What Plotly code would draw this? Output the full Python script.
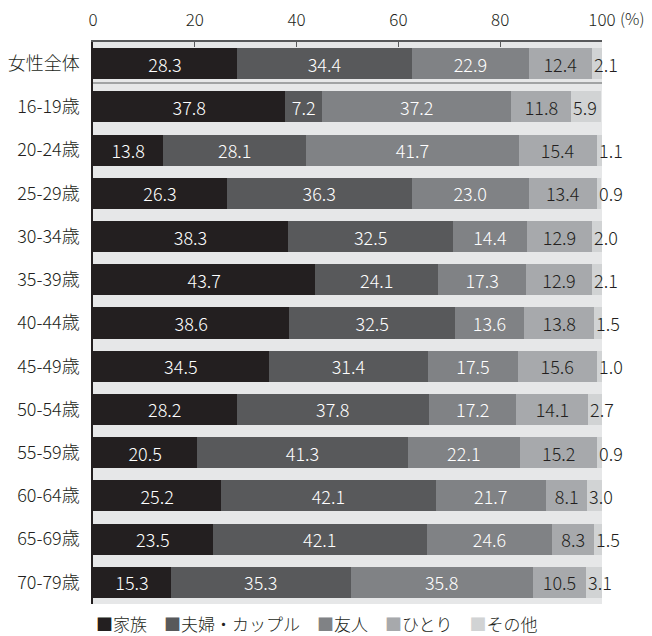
import plotly.graph_objects as go

# Who respondents spend time with, by age group (%)
categories = ["女性全体", "16-19歳", "20-24歳", "25-29歳", "30-34歳", "35-39歳", "40-44歳",
              "45-49歳", "50-54歳", "55-59歳", "60-64歳", "65-69歳", "70-79歳"]
series_names = ["家族", "夫婦・カップル", "友人", "ひとり", "その他"]
family = [28.3, 37.8, 13.8, 26.3, 38.3, 43.7, 38.6, 34.5, 28.2, 20.5, 25.2, 23.5, 15.3]
couple = [34.4, 7.2, 28.1, 36.3, 32.5, 24.1, 32.5, 31.4, 37.8, 41.3, 42.1, 42.1, 35.3]
friends = [22.9, 37.2, 41.7, 23.0, 14.4, 17.3, 13.6, 17.5, 17.2, 22.1, 21.7, 24.6, 35.8]
alone = [12.4, 11.8, 15.4, 13.4, 12.9, 12.9, 13.8, 15.6, 14.1, 15.2, 8.1, 8.3, 10.5]
other = [2.1, 5.9, 1.1, 0.9, 2.0, 2.1, 1.5, 1.0, 2.7, 0.9, 3.0, 1.5, 3.1]
tick_vals = [0, 20, 40, 60, 80, 100]

colors = ["#231f20", "#58595b", "#808285", "#a7a9ac", "#d1d3d4"]
text_colors = ["#ffffff", "#ffffff", "#ffffff", "#231f20", "#231f20"]
FONT = "Noto Sans CJK JP"
W = 300  # light weight

fig = go.Figure()
all_series = [family, couple, friends, alone, other]
for i, (name, vals) in enumerate(zip(series_names, all_series)):
    show_text = i < 4
    fig.add_trace(go.Bar(
        y=categories, x=vals, name=name, orientation="h",
        marker=dict(color=colors[i], line=dict(width=0)),
        width=0.72,
        text=[f"{v:.1f}" for v in vals] if show_text else None,
        textposition="inside" if show_text else "none",
        insidetextanchor="middle",
        textangle=0,
        textfont=dict(family=FONT, size=18, color=text_colors[i], weight=W),
        hoverinfo="x+y+name",
        showlegend=False,
    ))

# "その他" values sit just right of where that segment starts
annotations = []
for k, cat in enumerate(categories):
    start = family[k] + couple[k] + friends[k] + alone[k]
    annotations.append(dict(
        x=start, y=cat, xref="x", yref="y", text=f"{other[k]:.1f}",
        xanchor="left", yanchor="middle", xshift=0, showarrow=False,
        font=dict(family=FONT, size=18, color="#231f20", weight=W),
    ))
# percent unit next to the last tick label
annotations.append(dict(
    x=1.0, y=1.0, xref="paper", yref="paper", text="(%)",
    xanchor="left", yanchor="middle", xshift=16, yshift=24, showarrow=False,
    font=dict(family=FONT, size=16, color="#231f20", weight=W),
))
# legend row built from the series names and colours
legend_text = "\u3000".join(
    f'<span style="color:{c}">■</span>{n}' for c, n in zip(colors, series_names)
)
annotations.append(dict(
    x=0.0, y=0.0, xref="paper", yref="paper", text=legend_text,
    xanchor="left", yanchor="middle", xshift=1, yshift=-19, showarrow=False,
    font=dict(family=FONT, size=17, color="#231f20", weight=W),
))

fig.update_layout(
    barmode="stack",
    width=652, height=636,
    margin=dict(l=93, r=50, t=42, b=32),
    paper_bgcolor="#ffffff",
    plot_bgcolor="#e6e7e8",
    font=dict(family=FONT, color="#231f20", weight=W),
    showlegend=False,
    annotations=annotations,
    shapes=[dict(
        type="line", xref="x", yref="y", x0=0, x1=100, y0=0.45, y1=0.45,
        line=dict(color="#8a8c8e", width=1.5), layer="above",
    )],
    uniformtext=dict(minsize=18, mode="show"),
)

fig.update_xaxes(
    side="top", range=[0, 100], tickvals=tick_vals,
    ticktext=[str(v) for v in tick_vals],
    showgrid=False, zeroline=False, automargin=False,
    showline=True, linecolor="#58595b", linewidth=1.5,
    ticks="inside", ticklen=5, tickcolor="#58595b", tickwidth=1,
    ticklabelstandoff=7,
    tickfont=dict(family=FONT, size=17, color="#231f20", weight=W),
    fixedrange=True,
)
fig.update_yaxes(
    range=[12.5, -0.5], showgrid=False, zeroline=False, automargin=False,
    showline=True, linecolor="#231f20", linewidth=1.5,
    ticks="", ticklabelstandoff=8,
    tickfont=dict(family=FONT, size=18, color="#231f20", weight=W),
    fixedrange=True,
)

fig.write_html("out.html")
